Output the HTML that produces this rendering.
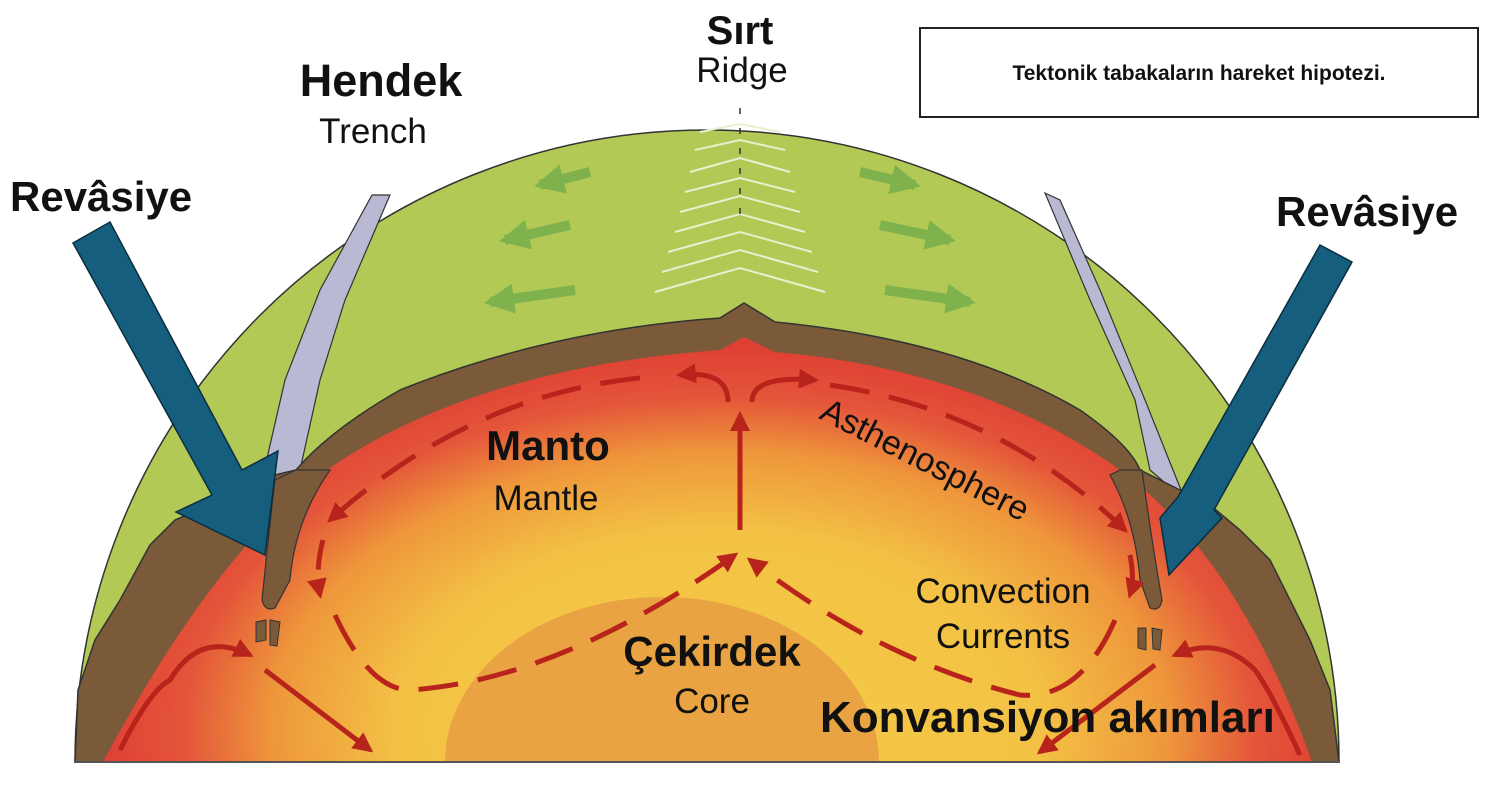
<!DOCTYPE html>
<html><head><meta charset="utf-8"><style>
html,body{margin:0;padding:0;background:#fff;}
svg{display:block}
text{font-family:"Liberation Sans",sans-serif;fill:#111}
.b{font-weight:bold}
</style></head><body>
<svg width="1497" height="804" viewBox="0 0 1497 804" xmlns="http://www.w3.org/2000/svg">
<defs>
<radialGradient id="m" cx="720" cy="730" r="640" gradientUnits="userSpaceOnUse" gradientTransform="translate(720 730) scale(1 0.62) translate(-720 -730)">
<stop offset="0" stop-color="#f5cb45"/><stop offset="0.5" stop-color="#f3c245"/><stop offset="0.7" stop-color="#ee973b"/><stop offset="0.84" stop-color="#e4543a"/><stop offset="1" stop-color="#dd3b33"/>
</radialGradient>
<marker id="ah" viewBox="0 0 10 10" refX="8" refY="5" markerWidth="4" markerHeight="4" orient="auto"><path d="M0,0 L10,5 L0,10 Z" fill="#b8241c"/></marker>
<marker id="ga" viewBox="0 0 10 10" refX="8" refY="5" markerWidth="3.5" markerHeight="3" orient="auto"><path d="M0,0 L10,5 L0,10 Z" fill="#7fb24d"/></marker>
</defs>
<path d="M75,762 A632,632 0 0 1 1339,762 Z" fill="#b2c955" stroke="#333" stroke-width="1.5"/>
<path d="M372,195 L390,195 L345,300 L320,380 L300,470 L262,480 L285,380 L320,290 Z" fill="#b9b9d3" stroke="#333" stroke-width="1.2"/>
<path d="M1045,193 L1060,200 L1100,290 L1145,400 L1185,500 L1150,470 L1135,400 L1090,300 Z" fill="#b9b9d3" stroke="#333" stroke-width="1.2"/>
<path d="M75,762 L78,690 L95,640 L120,600 L150,545 L175,520 L210,505 L240,488 L262,478 L296,470 Q330,430 400,390 Q550,330 720,318 L744,303 L775,322 Q960,340 1080,410 Q1130,445 1140,470 L1170,485 L1210,505 L1240,530 L1270,560 L1290,600 L1310,640 L1330,690 L1339,762 Z" fill="#7a5a38" stroke="#333" stroke-width="1.5"/>
<path d="M103,762 Q200,580 300,490 Q450,370 720,350 L744,337 L775,352 Q980,370 1120,470 Q1240,560 1312,762 Z" fill="url(#m)"/>
<path d="M296,470 L275,480 Q268,540 262,600 Q265,612 275,608 L290,580 Q295,520 330,470 Z" fill="#7a5a38" stroke="#333" stroke-width="1.2"/>
<path d="M1120,470 L1142,470 Q1150,530 1162,600 Q1160,612 1150,608 L1140,580 Q1135,520 1110,475 Z" fill="#7a5a38" stroke="#333" stroke-width="1.2"/>
<path d="M256,622 L266,620 L266,640 L256,642 Z M270,620 L280,622 L277,646 L270,645 Z" fill="#7a5a38" stroke="#333"/>
<path d="M1138,628 L1146,628 L1146,650 L1138,648 Z M1152,628 L1162,630 L1160,650 L1153,649 Z" fill="#7a5a38" stroke="#333"/>
<path d="M445,762 A217,165 0 0 1 879,762 Z" fill="#e9a342"/>
<line x1="75" y1="762" x2="1340" y2="762" stroke="#555" stroke-width="2"/>
<g fill="none" stroke="#e8f0d0" stroke-width="2">
<path d="M700,132 L740,124 L780,132"/><path d="M695,150 L740,140 L785,150"/><path d="M690,172 L740,158 L790,172"/><path d="M685,192 L740,178 L795,192"/><path d="M680,212 L740,196 L800,212"/><path d="M675,232 L740,214 L805,232"/><path d="M668,252 L740,232 L812,252"/><path d="M662,272 L740,250 L818,272"/><path d="M655,292 L740,268 L825,292"/>
</g>
<line x1="740" y1="108" x2="740" y2="215" stroke="#333" stroke-width="1.5" stroke-dasharray="6,14"/>
<g stroke="#7fb24d" stroke-width="10" marker-end="url(#ga)" fill="none">
<path d="M590,172 L540,185"/><path d="M570,225 L505,240"/><path d="M575,290 L490,302"/>
<path d="M860,172 L915,185"/><path d="M880,225 L950,240"/><path d="M885,290 L970,302"/>
</g>
<path d="M73,243 L110,222 L242,470 L278,451 L265,555 L176,512 L212,495 Z" fill="#155e7e" stroke="#0a2e3e" stroke-width="1.5"/>
<path d="M1320,245 L1352,262 L1214,510 L1222,518 L1169,575 L1160,518 L1178,497 Z" fill="#155e7e" stroke="#0a2e3e" stroke-width="1.5"/>
<g fill="none" stroke="#b8241c" stroke-width="5" marker-end="url(#ah)">
<path d="M740,530 L740,415"/>
<path d="M728,402 Q728,370 680,375"/>
<path d="M640,378 Q470,395 330,520" stroke-dasharray="40,20"/>
<path d="M323,540 Q315,570 320,595" stroke-dasharray="30,12"/>
<path d="M752,402 Q752,375 815,380"/>
<path d="M830,385 Q1000,410 1125,530" stroke-dasharray="40,20"/>
<path d="M1130,555 Q1135,580 1130,595" stroke-dasharray="30,12"/>
<path d="M335,615 Q370,690 410,690 Q560,680 735,555" stroke-dasharray="40,20"/>
<path d="M1115,620 Q1080,700 1020,695 Q880,660 750,560" stroke-dasharray="40,20"/>
<path d="M120,750 Q150,690 170,680 Q200,630 250,655"/>
<path d="M265,670 L370,750"/>
<path d="M1300,755 Q1270,690 1255,670 Q1220,635 1175,655"/>
<path d="M1155,665 L1040,752"/>
</g>
<text x="740" y="44" class="b" font-size="40" text-anchor="middle">Sırt</text>
<text x="742" y="82" font-size="35" text-anchor="middle">Ridge</text>
<text x="381" y="96" class="b" font-size="45" text-anchor="middle">Hendek</text>
<text x="373" y="143" font-size="35" text-anchor="middle">Trench</text>
<text x="10" y="211" class="b" font-size="42">Revâsiye</text>
<text x="1276" y="226" class="b" font-size="42">Revâsiye</text>
<rect x="920" y="28" width="558" height="89" fill="#fff" stroke="#222" stroke-width="2"/>
<text x="1199" y="80" class="b" font-size="21" text-anchor="middle">Tektonik tabakaların hareket  hipotezi.</text>
<text x="548" y="460" class="b" font-size="42" text-anchor="middle">Manto</text>
<text x="546" y="510" font-size="35" text-anchor="middle">Mantle</text>
<text x="0" y="0" font-size="34" transform="translate(818,418) rotate(27)">Asthenosphere</text>
<text x="1003" y="603" font-size="35" text-anchor="middle">Convection</text>
<text x="1003" y="648" font-size="35" text-anchor="middle">Currents</text>
<text x="712" y="666" class="b" font-size="42" text-anchor="middle">Çekirdek</text>
<text x="712" y="713" font-size="35" text-anchor="middle">Core</text>
<text x="820" y="732" class="b" font-size="44">Konvansiyon akımları</text>
</svg>
</body></html>
